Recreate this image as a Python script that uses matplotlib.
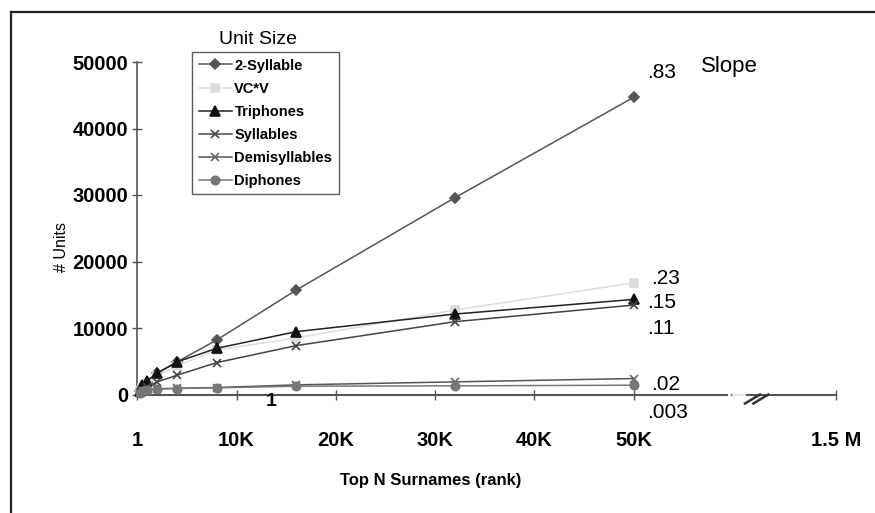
import matplotlib
matplotlib.use("Agg")
import matplotlib.pyplot as plt
from matplotlib.lines import Line2D

plt.rcParams['font.family'] = ['Liberation Sans', 'DejaVu Sans']

# top N surnames (rank) and number of units per unit size
rank = [250, 500, 1000, 2000, 4000, 8000, 16000, 32000, 50000]
two_syllable = [600, 1200, 1950, 3200, 4900, 8200, 15700, 29600, 44700]
vcv = [500, 1000, 1700, 2800, 4300, 6700, 8500, 12700, 16800]
triphones = [600, 1400, 2100, 3200, 4900, 6950, 9450, 12100, 14300]
syllables = [300, 700, 1200, 1900, 2900, 4800, 7350, 10950, 13450]
demisyllables = [300, 500, 700, 850, 950, 1050, 1450, 1900, 2400]
diphones = [300, 500, 650, 800, 900, 1000, 1250, 1300, 1400]

x_ticks = [0, 10000, 20000, 30000, 40000, 50000]
x_ticklabels = ['1', '10K', '20K', '30K', '40K', '50K']
y_ticks = [0, 10000, 20000, 30000, 40000, 50000]
slopes = ['.83', '.23', '.15', '.11', '.02', '.003']

W, H = 875, 513
fig = plt.figure(figsize=(W / 100, H / 100), dpi=100)

# left/top frame of the original scan
fig.add_artist(Line2D([11 / W, 1], [1 - 12 / H, 1 - 12 / H], color='#222222', lw=1.6))
fig.add_artist(Line2D([11 / W, 11 / W], [1 - 12 / H, 0], color='#222222', lw=1.6))

ax = fig.add_axes([137.3 / W, 1 - 394.5 / H, 702.7 / W, 332.5 / H])
ax.set_xlim(0, 70770)
ax.set_ylim(0, 50000)

series = [
    ('2-Syllable', two_syllable, '#555555', 'D', 5, '#555555'),
    ('VC*V', vcv, '#dcdcdc', 's', 6, '#dcdcdc'),
    ('Triphones', triphones, '#111111', '^', 7, '#222222'),
    ('Syllables', syllables, '#444444', 'x', 6, '#444444'),
    ('Demisyllables', demisyllables, '#666666', 'x', 6, '#555555'),
    ('Diphones', diphones, '#777777', 'o', 6, '#777777'),
]
for name, vals, col, mk, ms, lcol in series:
    ax.plot(rank, vals, color=lcol, lw=1.1, marker=mk, ms=ms, mfc=col, mec=col,
            mew=1.2, label=name, clip_on=False, zorder=3)

for s in ['top', 'right']:
    ax.spines[s].set_visible(False)
ax.spines['left'].set_color('#555555')
ax.spines['bottom'].set_color('#555555')
ax.spines['left'].set_linewidth(1.2)
ax.spines['bottom'].set_linewidth(1.5)
ax.spines['bottom'].set_bounds(0, 59350)

# broken part of the x axis out to 1.5 M
ax.plot([59900, 61500], [0, 0], color='#dddddd', lw=1.2, clip_on=False)
ax.plot([61450, 70360], [0, 0], color='#555555', lw=1.5, clip_on=False)
ax.plot([59750, 59750], [-150, 150], color='#777777', lw=1, clip_on=False)
for x0 in [61200, 62050]:
    ax.plot([x0, x0 + 1500], [-1350, 0], color='#333333', lw=1.8, clip_on=False)

ax.set_xticks(x_ticks + [70360])
ax.set_xticklabels(x_ticklabels + ['1.5 M'], fontsize=14.5, fontweight='bold')
ax.set_yticks(y_ticks)
ax.set_yticklabels([str(v) for v in y_ticks], fontsize=14.5, fontweight='bold')
ax.tick_params(axis='x', direction='inout', length=7, width=1, color='#555555', pad=23)
ax.tick_params(axis='y', direction='inout', length=7, width=1, color='#555555', pad=3)

leg = ax.legend(loc='upper left', bbox_to_anchor=(0.078, 1.03), borderaxespad=0,
                fancybox=False, frameon=True, edgecolor='#333333',
                prop={'weight': 'bold', 'size': 10.5}, handlelength=2.3,
                handletextpad=0.15, labelspacing=0.62, borderpad=0.45)
leg.get_frame().set_linewidth(1.0)

fig.text(258 / W, 1 - 40 / H, 'Unit Size', fontsize=14, ha='center', va='center')
fig.text(62 / W, 1 - 247 / H, '# Units', fontsize=11.5, rotation=90, ha='center', va='center')
fig.text(431 / W, 1 - 480 / H, 'Top N Surnames (rank)', fontsize=12,
         fontweight='bold', ha='center', va='center')
fig.text(271 / W, 1 - 401 / H, '1', fontsize=14, fontweight='bold', ha='center', va='center')

fig.text(701 / W, 1 - 67 / H, 'Slope', fontsize=16, ha='left', va='center')
slope_pos = [(647, 72), (651, 278), (647, 302), (647, 329), (651, 385), (647, 412)]
for txt, (px, py) in zip(slopes, slope_pos):
    fig.text(px / W, 1 - py / H, txt, fontsize=15, ha='left', va='center')

fig.savefig('out.png', dpi=100)
